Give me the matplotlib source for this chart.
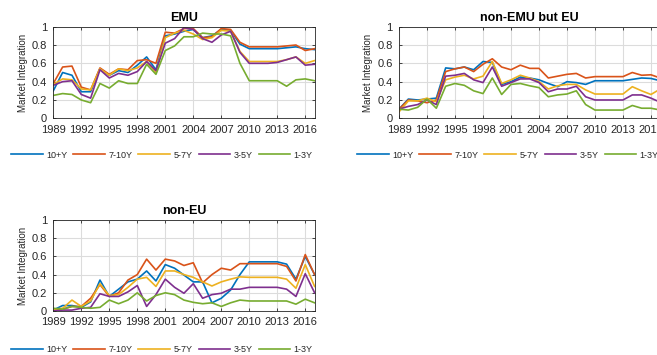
import matplotlib
matplotlib.use("Agg")
import matplotlib.pyplot as plt

plt.rcParams['font.family'] = ['Liberation Sans', 'DejaVu Sans']

years = list(range(1989, 2018))
maturities = ["10+Y", "7-10Y", "5-7Y", "3-5Y", "1-3Y"]
colors = ["#0072BD", "#D95319", "#EDB120", "#7E2F8E", "#77AC30"]

emu_10p = [0.30, 0.50, 0.47, 0.29, 0.29, 0.54, 0.47, 0.52, 0.50, 0.58, 0.67, 0.53, 0.90, 0.92, 0.95,
           0.97, 0.88, 0.90, 0.97, 0.96, 0.81, 0.76, 0.76, 0.76, 0.76, 0.77, 0.78, 0.76, 0.75]
emu_7_10 = [0.38, 0.56, 0.57, 0.34, 0.31, 0.55, 0.48, 0.54, 0.53, 0.63, 0.64, 0.60, 0.94, 0.93, 0.98,
            0.98, 0.88, 0.89, 0.98, 0.97, 0.83, 0.78, 0.78, 0.78, 0.78, 0.79, 0.80, 0.74, 0.76]
emu_5_7 = [0.37, 0.43, 0.42, 0.32, 0.31, 0.54, 0.47, 0.54, 0.52, 0.55, 0.62, 0.50, 0.88, 0.93, 0.96,
           0.92, 0.86, 0.88, 0.96, 0.95, 0.73, 0.62, 0.62, 0.62, 0.62, 0.64, 0.67, 0.60, 0.63]
emu_3_5 = [0.36, 0.40, 0.41, 0.26, 0.22, 0.53, 0.44, 0.49, 0.47, 0.51, 0.62, 0.52, 0.82, 0.87, 0.99,
           0.97, 0.87, 0.83, 0.91, 0.95, 0.72, 0.60, 0.60, 0.60, 0.61, 0.64, 0.67, 0.58, 0.59]
emu_1_3 = [0.25, 0.27, 0.26, 0.20, 0.17, 0.38, 0.33, 0.41, 0.38, 0.38, 0.59, 0.48, 0.74, 0.79, 0.89,
           0.89, 0.93, 0.92, 0.92, 0.90, 0.60, 0.41, 0.41, 0.41, 0.41, 0.35, 0.42, 0.43, 0.41]

eu_10p = [0.10, 0.21, 0.20, 0.21, 0.22, 0.55, 0.54, 0.56, 0.53, 0.62, 0.61, 0.37, 0.40, 0.45, 0.44,
          0.42, 0.38, 0.345, 0.40, 0.39, 0.37, 0.41, 0.41, 0.41, 0.41, 0.425, 0.44, 0.435, 0.41]
eu_7_10 = [0.10, 0.20, 0.19, 0.17, 0.20, 0.51, 0.54, 0.56, 0.51, 0.59, 0.65, 0.56, 0.53, 0.58, 0.545,
           0.545, 0.44, 0.46, 0.48, 0.49, 0.44, 0.455, 0.455, 0.455, 0.455, 0.50, 0.47, 0.475, 0.44]
eu_5_7 = [0.07, 0.19, 0.19, 0.22, 0.18, 0.42, 0.45, 0.47, 0.43, 0.46, 0.62, 0.38, 0.42, 0.47, 0.44,
          0.40, 0.32, 0.355, 0.37, 0.37, 0.31, 0.265, 0.265, 0.265, 0.265, 0.345, 0.30, 0.26, 0.32]
eu_3_5 = [0.10, 0.13, 0.15, 0.20, 0.15, 0.46, 0.47, 0.49, 0.42, 0.39, 0.56, 0.35, 0.39, 0.43, 0.43,
          0.39, 0.29, 0.32, 0.32, 0.35, 0.235, 0.20, 0.20, 0.20, 0.20, 0.255, 0.255, 0.22, 0.175]
eu_1_3 = [0.10, 0.09, 0.12, 0.21, 0.11, 0.35, 0.38, 0.36, 0.30, 0.27, 0.44, 0.26, 0.37, 0.38, 0.355,
          0.335, 0.235, 0.255, 0.265, 0.30, 0.15, 0.09, 0.09, 0.09, 0.09, 0.14, 0.11, 0.11, 0.09]

noneu_10p = [0.01, 0.06, 0.06, 0.04, 0.10, 0.34, 0.16, 0.24, 0.32, 0.35, 0.44, 0.33, 0.51, 0.47, 0.395,
             0.32, 0.32, 0.09, 0.14, 0.23, 0.40, 0.54, 0.54, 0.54, 0.54, 0.515, 0.35, 0.60, 0.40]
noneu_7_10 = [0.01, 0.02, 0.05, 0.05, 0.14, 0.29, 0.16, 0.20, 0.34, 0.40, 0.57, 0.45, 0.57, 0.55, 0.50,
              0.53, 0.31, 0.40, 0.47, 0.45, 0.52, 0.52, 0.52, 0.52, 0.52, 0.49, 0.33, 0.62, 0.40]
noneu_5_7 = [0.02, 0.03, 0.12, 0.05, 0.11, 0.30, 0.17, 0.18, 0.26, 0.35, 0.37, 0.27, 0.44, 0.44, 0.40,
             0.37, 0.32, 0.275, 0.32, 0.35, 0.375, 0.37, 0.37, 0.37, 0.37, 0.35, 0.25, 0.51, 0.27]
noneu_3_5 = [0.00, 0.01, 0.01, 0.03, 0.04, 0.19, 0.16, 0.16, 0.21, 0.28, 0.05, 0.18, 0.35, 0.26, 0.195,
             0.30, 0.14, 0.18, 0.195, 0.24, 0.24, 0.26, 0.26, 0.26, 0.26, 0.24, 0.16, 0.41, 0.20]
noneu_1_3 = [0.03, 0.02, 0.05, 0.04, 0.03, 0.04, 0.12, 0.08, 0.12, 0.20, 0.11, 0.17, 0.20, 0.18, 0.12,
             0.095, 0.08, 0.09, 0.05, 0.09, 0.12, 0.11, 0.11, 0.11, 0.11, 0.11, 0.075, 0.13, 0.09]

panels = [
    ("EMU", [emu_10p, emu_7_10, emu_5_7, emu_3_5, emu_1_3]),
    ("non-EMU but EU", [eu_10p, eu_7_10, eu_5_7, eu_3_5, eu_1_3]),
    ("non-EU", [noneu_10p, noneu_7_10, noneu_5_7, noneu_3_5, noneu_1_3]),
]

W, H = 657, 355
fig = plt.figure(figsize=(W / 100, H / 100), dpi=100)
fig.patch.set_facecolor("white")

ax_w = 261.3
# (left px, top px, bottom px, legend center x px, legend center y px)
boxes = [
    (53.3, 26.7, 118.3, 162, 155),
    (399.0, 26.7, 118.3, 508, 155),
    (53.3, 220.0, 311.0, 162, 350),
]

text_gray = "#262626"
for (title, series), (lx, ty, by, lgx, lgy) in zip(panels, boxes):
    ax = fig.add_axes([lx / W, 1 - by / H, ax_w / W, (by - ty) / H])
    for vals, c, name in zip(series, colors, maturities):
        ax.plot(years, vals, color=c, lw=1.2, label=name)
    ax.set_xlim(1989, 2017)
    ax.set_ylim(0, 1)
    ax.set_xticks(range(1989, 2018, 3))
    ax.set_yticks([0, 0.2, 0.4, 0.6, 0.8, 1])
    ax.set_yticklabels(["0", "0.2", "0.4", "0.6", "0.8", "1"])
    ax.grid(True, color="#dcdcdc", lw=0.8)
    ax.set_axisbelow(True)
    ax.tick_params(direction="in", length=2.5, width=0.6, colors=text_gray,
                   labelsize=8, top=True, right=True)
    ax.tick_params(axis="x", pad=4.5)
    ax.tick_params(axis="y", pad=4.5)
    for s in ax.spines.values():
        s.set_color(text_gray)
        s.set_linewidth(0.6)
    ax.set_title(title, fontsize=9, fontweight="bold", color="black", pad=4)
    ax.set_ylabel("Market Integration", fontsize=7, color=text_gray, labelpad=3)
    ax.legend(loc="center", bbox_to_anchor=(lgx / W, 1 - lgy / H),
              bbox_transform=fig.transFigure, ncol=5, frameon=False,
              fontsize=6.5, handlelength=3.5, handletextpad=0.4,
              columnspacing=0.65, labelcolor=text_gray)

fig.savefig("out.png", dpi=100, facecolor="white")
